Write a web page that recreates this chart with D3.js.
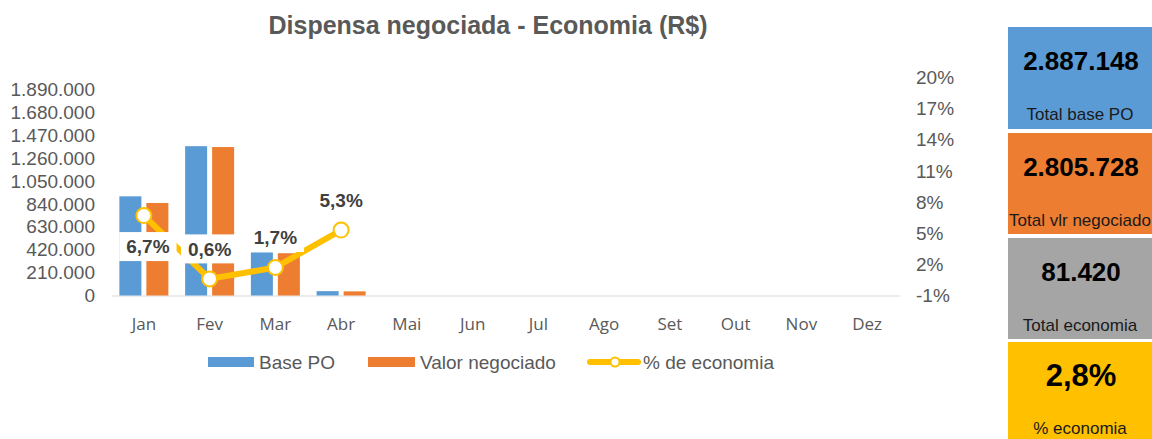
<!DOCTYPE html>
<html>
<head>
<meta charset="utf-8">
<script src="https://cdn.jsdelivr.net/npm/d3@7"></script>
<style>
  html, body { margin: 0; padding: 0; background: #fff; }
  svg { display: block; }
</style>
</head>
<body>
<svg id="chart" width="1152" height="439"></svg>
<script>
// Monthly values (R$) and savings percentage
const months = ["Jan", "Fev", "Mar", "Abr", "Mai", "Jun", "Jul", "Ago", "Set", "Out", "Nov", "Dez"];
const basePO = [910000, 1370000, 395000, 40000];
const valorNegociado = [849000, 1362000, 388000, 37900];
const pctEconomia = [6.7, 0.6, 1.7, 5.3];
const pctLabels = ["6,7%", "0,6%", "1,7%", "5,3%"];
const pctLabelBelow = [true, false, false, false];
const leftTicks = [0, 210000, 420000, 630000, 840000, 1050000, 1260000, 1470000, 1680000, 1890000];
const rightTicks = [-1, 2, 5, 8, 11, 14, 17, 20];
const seriesNames = ["Base PO", "Valor negociado", "% de economia"];

// Summary tiles
const tileValues = ["2.887.148", "2.805.728", "81.420", "2,8%"];
const tileLabels = ["Total base PO", "Total vlr negociado", "Total economia", "% economia"];

const colors = { base: "#5B9BD5", neg: "#ED7D31", pct: "#FFC000", gray: "#A5A5A5" };
const axisText = "#595959";

const svg = d3.select("#chart");
const fmt = d3.formatLocale({ decimal: ",", thousands: ".", grouping: [3], currency: ["R$", ""] });
const fmtInt = fmt.format(",d");

const plot = { left: 111, right: 900, top: 77.5, bottom: 295.5 };

const x = d3.scaleBand().domain(months).range([plot.left, plot.right]).padding(0);
const xs = d3.scaleBand().domain(["base", "neg"]).range([0, 49]).paddingInner(0.185);
const yL = d3.scaleLinear().domain([0, 2000000]).range([plot.bottom, plot.top]);
const yR = d3.scaleLinear().domain([-1, 20]).range([plot.bottom, plot.top]);

// Title
svg.append("text")
  .attr("x", 488).attr("y", 34)
  .attr("text-anchor", "middle")
  .attr("font-family", "Liberation Sans, Arial, sans-serif")
  .attr("font-weight", "bold")
  .attr("font-size", 25)
  .attr("fill", "#595959")
  .text("Dispensa negociada - Economia (R$)");

// Left axis
const leftAxis = svg.append("g")
  .attr("transform", `translate(${95},0)`)
  .call(d3.axisLeft(yL).tickValues(leftTicks).tickSize(0).tickPadding(0).tickFormat(d => fmtInt(d)));
leftAxis.select(".domain").remove();
leftAxis.selectAll("text")
  .attr("font-family", "Liberation Sans, Arial, sans-serif")
  .attr("font-size", 19)
  .attr("fill", axisText);

// Right axis
const rightAxis = svg.append("g")
  .attr("transform", `translate(${916},0)`)
  .call(d3.axisRight(yR).tickValues(rightTicks).tickSize(0).tickPadding(0).tickFormat(d => d + "%"));
rightAxis.select(".domain").remove();
rightAxis.selectAll("text")
  .attr("font-family", "Liberation Sans, Arial, sans-serif")
  .attr("font-size", 19)
  .attr("fill", axisText);

// Category axis
const bottomAxis = svg.append("g")
  .attr("transform", `translate(0,${plot.bottom})`)
  .call(d3.axisBottom(x).tickSize(0).tickPadding(22));
bottomAxis.select(".domain")
  .attr("stroke", "#D9D9D9").attr("stroke-width", 1.2);
bottomAxis.selectAll("text")
  .attr("font-family", "Open Sans, sans-serif")
  .attr("font-size", 17)
  .attr("fill", axisText);

// Bars
const barData = basePO.map((v, i) => ({ month: months[i], base: v, neg: valorNegociado[i] }));
const groups = svg.append("g").selectAll("g")
  .data(barData).join("g")
  .attr("transform", d => `translate(${x(d.month) + (x.bandwidth() - 49) / 2},0)`);
groups.append("rect")
  .attr("x", xs("base")).attr("width", xs.bandwidth())
  .attr("y", d => yL(d.base)).attr("height", d => yL(0) - yL(d.base))
  .attr("fill", colors.base);
groups.append("rect")
  .attr("x", xs("neg")).attr("width", xs.bandwidth())
  .attr("y", d => yL(d.neg)).attr("height", d => yL(0) - yL(d.neg))
  .attr("fill", colors.neg);

// Savings line
const pctData = pctEconomia.map((v, i) => ({ month: months[i], v, label: pctLabels[i], below: pctLabelBelow[i] }));
const cx = d => x(d.month) + x.bandwidth() / 2;
svg.append("path")
  .datum(pctData)
  .attr("fill", "none")
  .attr("stroke", colors.pct)
  .attr("stroke-width", 6)
  .attr("stroke-linejoin", "round")
  .attr("d", d3.line().x(cx).y(d => yR(d.v)));
svg.append("g").selectAll("circle")
  .data(pctData).join("circle")
  .attr("cx", cx).attr("cy", d => yR(d.v))
  .attr("r", 7.5)
  .attr("fill", "#fff")
  .attr("stroke", colors.pct)
  .attr("stroke-width", 2);

// Data labels with white backing
const lbl = svg.append("g").selectAll("g")
  .data(pctData).join("g")
  .attr("transform", d => `translate(${cx(d) + (d.below ? 4 : 0)},${yR(d.v) + (d.below ? 31 : -30)})`);
lbl.append("rect").attr("class", "bg").attr("fill", "#fff");
lbl.append("text")
  .attr("text-anchor", "middle")
  .attr("dy", "0.35em")
  .attr("font-family", "Liberation Sans, Arial, sans-serif")
  .attr("font-weight", "bold")
  .attr("font-size", 19)
  .attr("fill", "#404040")
  .text(d => d.label);
lbl.each(function () {
  const g = d3.select(this);
  const w = g.select("text").node().getComputedTextLength();
  g.select("rect").attr("x", -w / 2 - 7).attr("width", w + 14).attr("y", -14.5).attr("height", 29);
});

// Legend
const legend = svg.append("g")
  .attr("font-family", "Liberation Sans, Arial, sans-serif")
  .attr("font-size", 19)
  .attr("fill", axisText);
legend.append("rect").attr("x", 208).attr("y", 357).attr("width", 46).attr("height", 10).attr("fill", colors.base);
legend.append("text").attr("x", 259).attr("y", 362).attr("dy", "0.35em").text(seriesNames[0]);
legend.append("rect").attr("x", 368).attr("y", 357).attr("width", 47).attr("height", 10).attr("fill", colors.neg);
legend.append("text").attr("x", 420).attr("y", 362).attr("dy", "0.35em").text(seriesNames[1]);
legend.append("line").attr("x1", 590).attr("x2", 638).attr("y1", 362).attr("y2", 362)
  .attr("stroke", colors.pct).attr("stroke-width", 6).attr("stroke-linecap", "round");
legend.append("circle").attr("cx", 615).attr("cy", 362).attr("r", 4.5)
  .attr("fill", "#fff").attr("stroke", colors.pct).attr("stroke-width", 2);
legend.append("text").attr("x", 643).attr("y", 362).attr("dy", "0.35em").text(seriesNames[2]);

// Summary tiles
const tileColors = [colors.base, colors.neg, colors.gray, colors.pct];
const tileTop = [27, 133, 238, 342];
const tileHeight = [102, 101, 101, 97];
const tiles = svg.append("g").selectAll("g")
  .data(tileValues.map((v, i) => ({ v, label: tileLabels[i], i }))).join("g")
  .attr("transform", d => `translate(1008,${tileTop[d.i]})`);
tiles.append("rect")
  .attr("width", 144).attr("height", d => tileHeight[d.i])
  .attr("fill", d => tileColors[d.i]);
tiles.append("text")
  .attr("x", 73).attr("y", d => d.i === 3 ? 33 : 34)
  .attr("dy", "0.35em")
  .attr("text-anchor", "middle")
  .attr("font-family", "Liberation Sans, Arial, sans-serif")
  .attr("font-weight", "bold")
  .attr("font-size", d => d.i === 3 ? 31 : 26)
  .attr("fill", "#000")
  .text(d => d.v);
tiles.append("text")
  .attr("x", 72).attr("y", d => d.i === 3 ? 86 : 87)
  .attr("dy", "0.35em")
  .attr("text-anchor", "middle")
  .attr("font-family", "Liberation Sans, Arial, sans-serif")
  .attr("font-size", 17)
  .attr("fill", "#1a1a1a")
  .text(d => d.label);
</script>
</body>
</html>
